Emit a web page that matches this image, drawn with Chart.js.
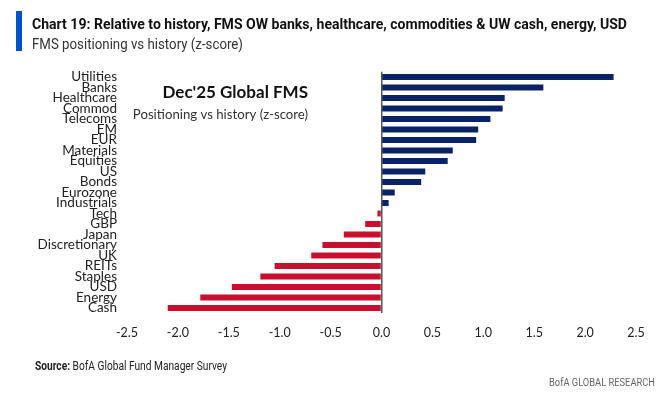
<!DOCTYPE html>
<html>
<head>
<meta charset="utf-8">
<script src="https://cdn.jsdelivr.net/npm/chart.js@4"></script>
<style>
  body { margin: 0; background: #fff; }
  #wrap { position: relative; width: 661px; height: 400px; overflow: hidden; }
  #chart { position: absolute; left: 0; top: 0; }
  .bar { position: absolute; left: 16px; top: 11px; width: 6px; height: 40px; background: #0052c9; }
  .fit { position: absolute; white-space: nowrap; font-family: Roboto, sans-serif; transform-origin: 0 0; }
  .title { left: 32px; top: 15px; font-weight: bold; font-size: 15px; color: #111; }
  .sub { left: 32px; top: 36px; font-size: 14px; color: #333; }
  .source { left: 35px; top: 359px; font-size: 12px; color: #222; }
  .brand { left: 549px; top: 375px; font-size: 11.5px; color: #666; }
</style>
</head>
<body>
<div id="wrap">
  <canvas id="chart" width="661" height="400"></canvas>
  <div class="bar"></div>
  <div class="fit title" data-w="595">Chart 19: Relative to history, FMS OW banks, healthcare, commodities &amp; UW cash, energy, USD</div>
  <div class="fit sub" data-w="211">FMS positioning vs history (z-score)</div>
  <div class="fit source" data-w="192"><b>Source:</b> BofA Global Fund Manager Survey</div>
  <div class="fit brand" data-w="106">BofA GLOBAL RESEARCH</div>
</div>
<script>
const categories = [
  "Utilities", "Banks", "Healthcare", "Commod", "Telecoms", "EM", "EUR",
  "Materials", "Equities", "US", "Bonds", "Eurozone", "Industrials",
  "Tech", "GBP", "Japan", "Discretionary", "UK", "REITs", "Staples",
  "USD", "Energy", "Cash"
];
const zScores = [
  2.28, 1.59, 1.21, 1.19, 1.07, 0.95, 0.93,
  0.70, 0.65, 0.43, 0.39, 0.13, 0.07,
  -0.04, -0.16, -0.37, -0.58, -0.69, -1.05, -1.19,
  -1.47, -1.78, -2.10
];
const xTicks = [-2.5, -2.0, -1.5, -1.0, -0.5, 0.0, 0.5, 1.0, 1.5, 2.0, 2.5];

const NAVY = "#0a2266";
const RED = "#c8102e";

// squeeze header/footer text to the condensed widths of the original
document.querySelectorAll(".fit").forEach(el => {
  const w = el.getBoundingClientRect().width;
  el.style.transform = "scaleX(" + (Number(el.dataset.w) / w) + ")";
});

const annotation = {
  id: "annotation",
  afterDraw(chart) {
    const ctx = chart.ctx;
    ctx.save();
    ctx.textAlign = "right";
    ctx.textBaseline = "middle";
    ctx.fillStyle = "#111";
    ctx.font = "bold 17px Lato";
    ctx.fillText("Dec'25 Global FMS", 308, 93);
    ctx.fillStyle = "#333";
    ctx.font = "13.2px Lato";
    ctx.fillText("Positioning vs history (z-score)", 308, 115);
    ctx.restore();
  }
};

new Chart(document.getElementById("chart"), {
  type: "bar",
  data: {
    labels: categories,
    datasets: [{
      data: zScores,
      backgroundColor: zScores.map(v => v >= 0 ? NAVY : RED),
      barPercentage: 0.57,
      categoryPercentage: 1.0,
    }],
  },
  options: {
    indexAxis: "y",
    responsive: false,
    animation: false,
    devicePixelRatio: 1,
    layout: { padding: { top: 71.75, right: 25, bottom: 56.75, left: 0 } },
    plugins: { legend: { display: false }, tooltip: { enabled: false } },
    scales: {
      x: {
        min: -2.5,
        max: 2.5,
        afterBuildTicks: (scale) => { scale.ticks = xTicks.map(v => ({ value: v })); },
        afterFit: (scale) => { scale.height = 30; },
        grid: {
          drawTicks: false,
          lineWidth: 1.5,
          color: (c) => (c.tick && c.tick.value === 0 ? "#555" : "transparent"),
        },
        border: { display: false },
        ticks: {
          padding: 12,
          color: "#222",
          font: { family: "Lato", size: 12.5 },
          callback: (v) => Number(v).toFixed(1),
        },
      },
      y: {
        afterFit: (scale) => { scale.width = 127; },
        grid: { display: false, drawTicks: false },
        border: { display: false },
        ticks: {
          autoSkip: false,
          padding: 10,
          color: "#222",
          font: { family: "Lato", size: 13.5 },
        },
      },
    },
  },
  plugins: [annotation],
});
</script>
</body>
</html>
